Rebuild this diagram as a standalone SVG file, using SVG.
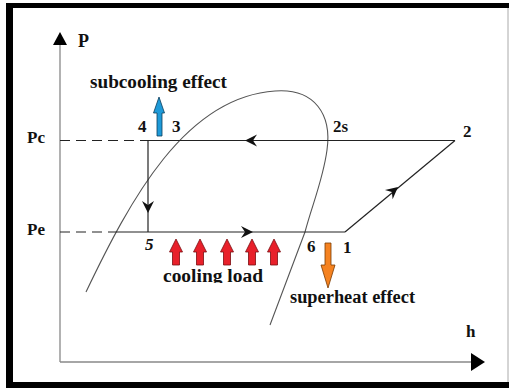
<svg xmlns="http://www.w3.org/2000/svg" width="509" height="392" viewBox="0 0 509 392">
<style>
text{font-family:'Liberation Serif','Times New Roman',serif;font-weight:bold;fill:#111;}
.ax{stroke:#888;stroke-width:1.3;fill:none;}
.ln{stroke:#222;stroke-width:1.2;fill:none;}
.dash{stroke:#222;stroke-width:1.2;stroke-dasharray:10,6;fill:none;}
.dome{stroke:#555;stroke-width:1.1;fill:none;}
.red{fill:#e8202a;stroke:#7a0d10;stroke-width:0.8;}
</style>
<defs>
<path id="chev" d="M0,0 L-12,-6 L-8,0 L-12,6 Z" fill="#111"/>
<path id="up" d="M0,0 L6.5,13 L3.5,13 L3.5,26 L-3.5,26 L-3.5,13 L-6.5,13 Z"/>
<clipPath id="cl"><rect x="150" y="260" width="130" height="23"/></clipPath>
</defs>
<rect width="509" height="392" fill="#fff"/>
<g id="frame">
<rect x="6" y="3" width="503" height="5" fill="#000"/>
<rect x="6" y="3" width="7" height="385" fill="#000"/>
<rect x="6" y="382" width="503" height="6" fill="#000"/>
<line x1="508" y1="8" x2="508" y2="382" stroke="#aaa" stroke-width="1"/>
</g>
<g id="axes">
<line class="ax" x1="60" y1="44" x2="60" y2="362"/>
<line class="ax" x1="60" y1="362" x2="472" y2="362"/>
<polygon points="60,32 53,45 67,45" fill="#000"/>
<polygon points="485,362 471,353 471,371" fill="#000"/>
<text x="78" y="47" font-size="18">P</text>
<text x="466" y="337" font-size="17">h</text>
<text x="27" y="143" font-size="17">Pc</text>
<text x="27" y="235" font-size="17">Pe</text>
</g>
<g id="dome">
<path class="dome" d="M86,292 C130,200 185,97 275,91 C315,88 332,115 327,150 C323,180 312,205 305,232 L270,325"/>
</g>
<g id="connectors">
<line class="dash" x1="60" y1="140.5" x2="148" y2="140.5"/>
<line class="ln" x1="148" y1="140.5" x2="455" y2="140.5"/>
<line class="ln" x1="148" y1="140.5" x2="148" y2="232"/>
<line class="dash" x1="60" y1="232" x2="114" y2="232"/>
<line class="ln" x1="114" y1="232" x2="345" y2="232"/>
<line class="ln" x1="345" y1="232" x2="455" y2="140.5"/>
<use href="#chev" transform="translate(245,140.5) rotate(180)"/>
<use href="#chev" transform="translate(148,213) rotate(90)"/>
<use href="#chev" transform="translate(253,232)"/>
<use href="#chev" transform="translate(398,187) rotate(-39.8)"/>
</g>
<g id="labels">
<text x="138" y="132" font-size="17">4</text>
<text x="172" y="132" font-size="17">3</text>
<text x="333" y="132" font-size="17" font-weight="normal">2s</text>
<text x="463" y="137" font-size="17">2</text>
<text x="145" y="250" font-size="17" font-style="italic">5</text>
<text x="307" y="252" font-size="17">6</text>
<text x="343" y="253" font-size="17">1</text>
</g>
<g id="subcooling">
<path d="M159,97 L164.5,113 L162,113 L162,136 L157,136 L157,113 L153.5,113 Z" fill="#1e9ad8" stroke="#0b3d5c" stroke-width="0.8"/>
<text x="90" y="88" font-size="18" textLength="137" lengthAdjust="spacingAndGlyphs">subcooling effect</text>
</g>
<g id="cooling-load">
<use href="#up" class="red" transform="translate(176,239)"/>
<use href="#up" class="red" transform="translate(200,239)"/>
<use href="#up" class="red" transform="translate(227,239)"/>
<use href="#up" class="red" transform="translate(252,239)"/>
<use href="#up" class="red" transform="translate(274,239)"/>
<text x="163" y="282" font-size="18" textLength="100" lengthAdjust="spacingAndGlyphs" clip-path="url(#cl)">cooling load</text>
</g>
<g id="superheat">
<path d="M325,243 L331,243 L331,265 L335,265 L328,288 L321,265 L325,265 Z" fill="#f58220" stroke="#7a3a00" stroke-width="0.8"/>
<text x="290" y="303" font-size="18" textLength="125" lengthAdjust="spacingAndGlyphs">superheat effect</text>
</g>
</svg>
